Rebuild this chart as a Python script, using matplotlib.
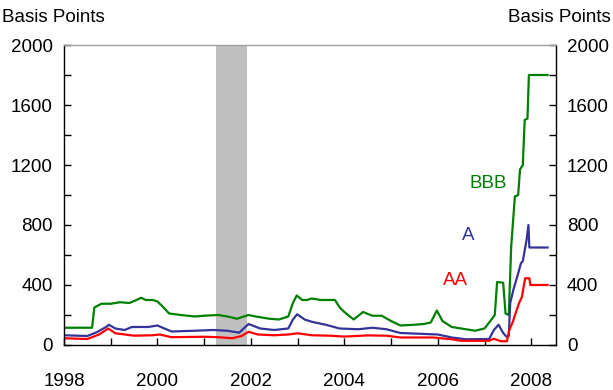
import numpy as np
import matplotlib
matplotlib.use("Agg")
import matplotlib.pyplot as plt
from matplotlib.ticker import MultipleLocator, FuncFormatter

plt.rcParams['font.family'] = ['Liberation Sans', 'DejaVu Sans']

# BBB spread (basis points), dates in decimal years
bbb_x = [1998.0, 1998.6, 1998.65, 1998.8, 1999.0, 1999.2, 1999.4, 1999.55, 1999.65, 1999.75,
         1999.9, 2000.0, 2000.1, 2000.25, 2000.5, 2000.8, 2001.0, 2001.3, 2001.5, 2001.7,
         2001.8, 2001.95, 2002.1, 2002.4, 2002.6, 2002.8, 2002.9, 2002.98, 2003.1, 2003.2,
         2003.3, 2003.5, 2003.8, 2003.9, 2004.0, 2004.2, 2004.4, 2004.6, 2004.8, 2005.0,
         2005.2, 2005.5, 2005.7, 2005.85, 2005.98, 2006.1, 2006.3, 2006.5, 2006.8, 2007.0,
         2007.15, 2007.22, 2007.27, 2007.4, 2007.45, 2007.52, 2007.57, 2007.65, 2007.72, 2007.76,
         2007.82, 2007.86, 2007.92, 2007.95, 2008.35]
bbb_y = [115, 115, 250, 275, 275, 285, 280, 300, 315, 300,
         300, 290, 260, 210, 200, 190, 195, 200, 190, 175,
         185, 200, 190, 175, 170, 190, 280, 330, 300, 300,
         310, 300, 300, 250, 220, 170, 220, 195, 195, 160,
         130, 135, 140, 150, 230, 160, 120, 110, 95, 110,
         170, 200, 420, 415, 210, 200, 650, 990, 1000, 1170,
         1200, 1500, 1510, 1800, 1800]

# A spread
a_x = [1998.0, 1998.5, 1998.7, 1998.9, 1998.96, 1999.1, 1999.3, 1999.45, 1999.8, 2000.0,
       2000.15, 2000.3, 2000.8, 2001.2, 2001.5, 2001.75, 2001.95, 2002.2, 2002.5, 2002.8,
       2002.9, 2002.99, 2003.15, 2003.3, 2003.6, 2003.9, 2004.3, 2004.6, 2004.9, 2005.2,
       2005.6, 2006.0, 2006.3, 2006.6, 2007.1, 2007.2, 2007.3, 2007.4, 2007.47, 2007.52,
       2007.55, 2007.62, 2007.7, 2007.78, 2007.82, 2007.9, 2007.94, 2007.96, 2008.35]
a_y = [65, 60, 85, 120, 135, 110, 100, 120, 120, 130,
       110, 90, 95, 100, 95, 82, 140, 110, 100, 110,
       170, 205, 170, 155, 135, 110, 105, 115, 105, 80,
       75, 70, 50, 38, 40, 100, 135, 80, 55, 60,
       280, 370, 455, 545, 560, 700, 800, 650, 650]

# AA spread
aa_x = [1998.0, 1998.5, 1998.75, 1998.95, 1999.1, 1999.3, 1999.5, 1999.9, 2000.05, 2000.3,
        2001.0, 2001.3, 2001.6, 2001.8, 2001.95, 2002.15, 2002.5, 2002.8, 2003.0, 2003.3,
        2003.7, 2004.0, 2004.5, 2004.9, 2005.2, 2005.9, 2006.3, 2006.5, 2007.1, 2007.2,
        2007.35, 2007.48, 2007.53, 2007.6, 2007.68, 2007.74, 2007.8, 2007.87, 2007.96, 2007.98,
        2008.35]
aa_y = [45, 40, 70, 110, 78, 70, 62, 65, 70, 52,
        55, 52, 45, 60, 88, 70, 65, 70, 78, 65,
        62, 56, 64, 62, 50, 50, 38, 28, 28, 42,
        25, 25, 100, 150, 225, 280, 320, 445, 445, 400,
        400]

recession = (2001.25, 2001.92)

green = '#008000'
blue = '#333399'
red = '#ff0000'

fig = plt.figure(figsize=(6.13, 3.90), dpi=100)
ax = fig.add_axes([0.1044, 0.1154, 0.8026, 0.7692])

ax.axvspan(recession[0], recession[1], color='#c0c0c0', lw=0, zorder=0)
ax.plot(bbb_x, bbb_y, color=green, lw=1.6)
ax.plot(a_x, a_y, color=blue, lw=1.6)
ax.plot(aa_x, aa_y, color=red, lw=1.6)

ax.text(2007.08, 1080, 'BBB', color=green, fontsize=13.5, ha='center', va='center')
ax.text(2006.65, 733, 'A', color=blue, fontsize=13.5, ha='center', va='center')
ax.text(2006.37, 433, 'AA', color=red, fontsize=13.5, ha='center', va='center')

ax.set_xlim(1998, 2008.53)
ax.set_ylim(0, 2000)

ax.xaxis.set_major_locator(MultipleLocator(1))
ax.xaxis.set_major_formatter(FuncFormatter(lambda v, p: f'{int(round(v))}' if int(round(v)) % 2 == 0 else ''))
ax.yaxis.set_major_locator(MultipleLocator(200))
ax.yaxis.set_major_formatter(FuncFormatter(lambda v, p: f'{int(round(v))}' if int(round(v)) % 400 == 0 else ''))

ax.tick_params(axis='both', direction='in', length=5, width=1, labelsize=13.5, color='black')
ax.tick_params(axis='y', left=True, right=True, labelleft=True, labelright=True, pad=8)
ax.tick_params(axis='x', top=False, pad=20)

for s in ['left', 'right', 'bottom']:
    ax.spines[s].set_color('black')
    ax.spines[s].set_linewidth(1)
ax.spines['top'].set_color('#a0a0a0')
ax.spines['top'].set_linewidth(1)

fig.text(0.003, 0.955, 'Basis Points', fontsize=13.5, ha='left', va='center')
fig.text(0.997, 0.955, 'Basis Points', fontsize=13.5, ha='right', va='center')

fig.savefig('out.png', dpi=100)
